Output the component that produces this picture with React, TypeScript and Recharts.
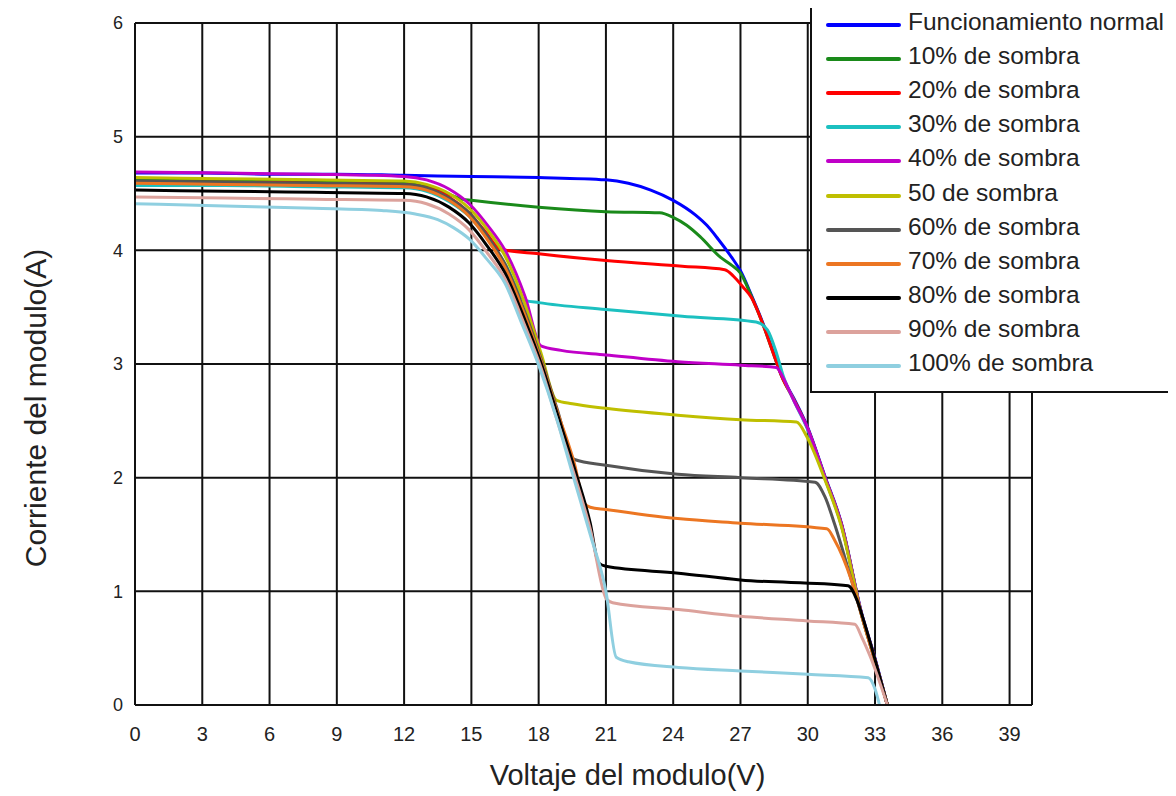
import { LineChart, Line, XAxis, YAxis, CartesianGrid, Legend, ReferenceLine, Label } from 'recharts'

type Pair = [number, number]

// voltage (V) / current (A) pairs
const normal: Pair[] = [
  [0, 4.68], [3, 4.68], [6, 4.67], [9, 4.67], [12, 4.66], [15, 4.65], [18, 4.64], [21, 4.62],
  [22, 4.59], [23, 4.53], [24, 4.44], [25, 4.31], [25.5, 4.22], [26, 4.1], [26.6, 3.94], [27, 3.82],
  [27.5, 3.6], [28, 3.36], [28.4, 3.14], [28.84, 2.9], [29.4, 2.69], [29.96, 2.46], [30.77, 2.01],
  [31.5, 1.6], [32.4, 0.81], [33, 0.41], [33.55, 0],
]
const shade10: Pair[] = [
  [0, 4.62], [4, 4.62], [8, 4.61], [12, 4.6], [13, 4.57], [13.8, 4.51], [14.6, 4.45], [15, 4.44],
  [18, 4.38], [21, 4.34], [23.4, 4.33], [24, 4.29], [24.6, 4.22], [25.2, 4.12], [26.1, 3.94],
  [26.6, 3.87], [27, 3.8], [27.5, 3.59], [28, 3.35], [28.4, 3.13], [28.84, 2.89], [29.4, 2.68],
  [29.96, 2.45], [30.77, 2.0], [31.5, 1.59], [32.4, 0.8], [33, 0.4], [33.55, 0],
]
const shade20: Pair[] = [
  [0, 4.6], [4, 4.6], [8, 4.59], [12, 4.58], [13, 4.55], [14, 4.47], [14.9, 4.33], [15.6, 4.17],
  [16.3, 4.01], [18, 3.97], [21, 3.91], [24.4, 3.86], [26.3, 3.83], [26.7, 3.77], [27.1, 3.68],
  [27.5, 3.58], [28, 3.35], [28.4, 3.13], [28.84, 2.89], [29.4, 2.68], [29.96, 2.45], [30.77, 2.0],
  [31.5, 1.59], [32.4, 0.8], [33, 0.4], [33.55, 0],
]
const shade30: Pair[] = [
  [0, 4.57], [4, 4.57], [8, 4.56], [12, 4.55], [13, 4.52], [14, 4.43], [14.9, 4.3], [15.8, 4.08],
  [16.5, 3.88], [17.4, 3.56], [18, 3.54], [21, 3.48], [24.4, 3.42], [27.7, 3.37], [28.2, 3.3],
  [28.6, 3.1], [28.9, 2.9], [29.4, 2.67], [29.96, 2.44], [30.77, 1.99], [31.5, 1.58], [32.4, 0.8],
  [33, 0.4], [33.55, 0],
]
const shade40: Pair[] = [
  [0, 4.69], [4, 4.68], [8, 4.67], [12, 4.65], [13, 4.62], [14, 4.54], [14.9, 4.41], [15.8, 4.2],
  [16.5, 4.0], [17.4, 3.59], [18.1, 3.16], [19, 3.12], [21, 3.08], [24.2, 3.02], [27, 2.99],
  [28.6, 2.97], [28.9, 2.88], [29.4, 2.67], [29.96, 2.45], [30.77, 2.0], [31.5, 1.59], [32.4, 0.8],
  [33, 0.4], [33.55, 0],
]
const shade50: Pair[] = [
  [0, 4.64], [4, 4.63], [8, 4.62], [12, 4.61], [13, 4.58], [14, 4.5], [14.9, 4.37], [15.8, 4.16],
  [16.5, 3.95], [17.4, 3.52], [18.1, 3.1], [18.8, 2.68], [19.5, 2.65], [21, 2.61], [24.2, 2.55],
  [27, 2.51], [29.5, 2.49], [29.96, 2.36], [30.77, 1.98], [31.5, 1.57], [32.4, 0.79], [33, 0.39],
  [33.55, 0],
]
const shade60: Pair[] = [
  [0, 4.61], [4, 4.6], [8, 4.59], [12, 4.58], [13, 4.55], [14, 4.46], [14.9, 4.33], [15.8, 4.1],
  [16.5, 3.88], [17.4, 3.45], [18.1, 3.05], [18.8, 2.62], [19.6, 2.16], [21, 2.11], [24.2, 2.03],
  [27, 2.0], [30.33, 1.96], [30.77, 1.83], [31.2, 1.59], [31.96, 1.09], [32.5, 0.72], [33, 0.38],
  [33.55, 0],
]
const shade70: Pair[] = [
  [0, 4.59], [4, 4.58], [8, 4.57], [12, 4.56], [13, 4.53], [14, 4.44], [14.9, 4.3], [15.8, 4.07],
  [16.5, 3.85], [17.4, 3.42], [18.1, 3.03], [18.8, 2.6], [19.6, 2.12], [20.05, 1.77], [20.3, 1.74],
  [21, 1.72], [24.2, 1.64], [27, 1.6], [30.85, 1.55], [31.2, 1.45], [31.96, 1.09], [32.5, 0.72],
  [33, 0.38], [33.55, 0],
]
const shade80: Pair[] = [
  [0, 4.53], [4, 4.52], [8, 4.51], [12, 4.5], [13, 4.47], [14, 4.38], [14.9, 4.24], [15.7, 4.04],
  [16.5, 3.8], [17.4, 3.38], [18.1, 3.01], [18.8, 2.58], [19.6, 2.08], [20.3, 1.6], [20.67, 1.25],
  [21, 1.22], [24.24, 1.16], [27, 1.1], [31.8, 1.05], [32.2, 0.92], [32.5, 0.74], [33, 0.4], [33.55, 0],
]
const shade90: Pair[] = [
  [0, 4.47], [4, 4.46], [8, 4.45], [12, 4.44], [13, 4.41], [14, 4.32], [14.9, 4.18], [15.7, 3.98],
  [16.5, 3.75], [17.4, 3.33], [18.1, 2.97], [18.8, 2.52], [19.6, 2.02], [20.3, 1.55], [21.03, 0.93],
  [21.3, 0.9], [24.24, 0.84], [27, 0.78], [30, 0.74], [32.1, 0.71], [32.4, 0.6], [32.8, 0.42], [33.55, 0],
]
const shade100: Pair[] = [
  [0, 4.41], [4, 4.39], [8, 4.37], [11, 4.35], [12.5, 4.32], [13.5, 4.27], [14.2, 4.2], [14.9, 4.1],
  [15.7, 3.92], [16.5, 3.71], [17.2, 3.38], [18, 2.99], [18.8, 2.52], [19.5, 2.04], [20.3, 1.5],
  [21, 1.0], [21.46, 0.42], [22, 0.38], [24.24, 0.33], [27, 0.3], [30, 0.27], [32.7, 0.24], [33, 0.14],
  [33.2, 0],
]

const voltageTicks = [0, 3, 6, 9, 12, 15, 18, 21, 24, 27, 30, 33, 36, 39]
const currentTicks = [0, 1, 2, 3, 4, 5, 6]

const series = [
  { name: 'Funcionamiento normal', color: '#0000ff', data: normal },
  { name: '10% de sombra', color: '#1a8a1a', data: shade10 },
  { name: '20% de sombra', color: '#ff0000', data: shade20 },
  { name: '30% de sombra', color: '#1cc0c0', data: shade30 },
  { name: '40% de sombra', color: '#c000c8', data: shade40 },
  { name: '50 de sombra', color: '#bfbf00', data: shade50 },
  { name: '60% de sombra', color: '#555555', data: shade60 },
  { name: '70% de sombra', color: '#ec7622', data: shade70 },
  { name: '80% de sombra', color: '#000000', data: shade80 },
  { name: '90% de sombra', color: '#dca29c', data: shade90 },
  { name: '100% de sombra', color: '#8fcfe0', data: shade100 },
]

const toPoints = (pairs: Pair[]) => pairs.map(([v, i]) => ({ v, i }))

const font = '"Liberation Sans", Arial, sans-serif'

function LegendBox() {
  return (
    <div
      style={{
        width: 360,
        height: 388,
        border: '2px solid #111',
        background: '#fff',
        boxSizing: 'border-box',
        position: 'relative',
        fontFamily: font,
      }}
    >
      {series.map((s, idx) => (
        <div key={s.name} style={{ position: 'absolute', left: 0, top: 1 + idx * 34.1, height: 34, width: 356 }}>
          <div
            style={{
              position: 'absolute',
              left: 14,
              top: 15,
              width: 75,
              height: 4,
              borderRadius: 2,
              background: s.color,
            }}
          />
          <div
            style={{
              position: 'absolute',
              left: 96,
              top: -3,
              lineHeight: '34px',
              fontSize: 24.5,
              color: '#222',
              whiteSpace: 'nowrap',
            }}
          >
            {s.name}
          </div>
        </div>
      ))}
    </div>
  )
}

export default function App() {
  return (
    <div style={{ fontFamily: font }}>
      <LineChart width={1160} height={788} margin={{ top: 15, right: 136, left: 0, bottom: 0 }}>
        <CartesianGrid stroke="#111" strokeWidth={2} />
        <XAxis
          type="number"
          dataKey="v"
          domain={[0, 40]}
          ticks={voltageTicks}
          interval={0}
          height={91}
          tickSize={0}
          tickMargin={22}
          axisLine={{ stroke: '#111', strokeWidth: 2 }}
          tickLine={false}
          tick={{ fill: '#222', fontSize: 20, fontFamily: font }}
        >
          <Label
            content={(props: any) => {
              const vb = props.viewBox
              return (
                <text
                  x={vb.x + vb.width / 2 + 44}
                  y={vb.y + 70}
                  textAnchor="middle"
                  dominantBaseline="central"
                  fontSize={29}
                  fill="#222"
                  fontFamily={font}
                >
                  Voltaje del modulo(V)
                </text>
              )
            }}
          />
        </XAxis>
        <YAxis
          type="number"
          domain={[0, 6]}
          ticks={currentTicks}
          interval={0}
          width={127}
          tickSize={0}
          tickMargin={12}
          axisLine={{ stroke: '#111', strokeWidth: 2 }}
          tickLine={false}
          tick={{ fill: '#222', fontSize: 18, fontFamily: font }}
        >
          <Label
            content={(props: any) => {
              const vb = props.viewBox
              const cx = vb.x + 27
              const cy = vb.y + vb.height / 2 + 44
              return (
                <text
                  x={cx}
                  y={cy}
                  transform={`rotate(-90, ${cx}, ${cy})`}
                  textAnchor="middle"
                  dominantBaseline="central"
                  fontSize={30}
                  fill="#222"
                  fontFamily={font}
                >
                  Corriente del modulo(A)
                </text>
              )
            }}
          />
        </YAxis>
        <ReferenceLine x={40} stroke="#111" strokeWidth={2} />
        {series.map((s) => (
          <Line
            key={s.name}
            name={s.name}
            data={toPoints(s.data)}
            dataKey="i"
            type="monotone"
            stroke={s.color}
            strokeWidth={3}
            dot={false}
            activeDot={false}
            isAnimationActive={false}
          />
        ))}
        <Legend
          layout="horizontal"
          verticalAlign="middle"
          align="center"
          content={() => <LegendBox />}
          wrapperStyle={{ position: 'absolute', left: 802, top: -3, width: 360, height: 388 }}
        />
      </LineChart>
    </div>
  )
}
